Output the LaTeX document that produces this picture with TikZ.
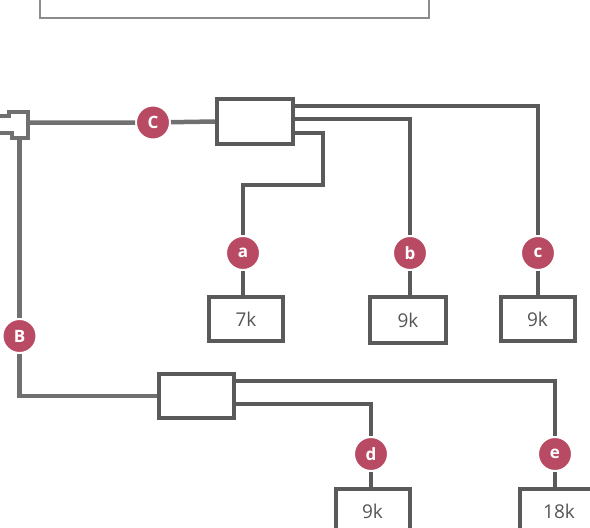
\documentclass[tikz,border=0pt]{standalone}
\usepackage{fontspec}
\setmainfont{Open Sans}
\usetikzlibrary{positioning, calc}
\definecolor{wiregray}{RGB}{90, 90, 90}
\definecolor{feedgray}{RGB}{112, 112, 112}
\definecolor{panelgray}{RGB}{140, 140, 140}
\definecolor{tagred}{RGB}{185, 74, 99}
\definecolor{textgray}{RGB}{85, 85, 85}

\begin{document}
\begin{tikzpicture}[x=1pt, y=-1pt,
    panel/.style={draw=panelgray, line width=1.5pt, minimum width=389pt,
                  minimum height=26pt, inner sep=0pt},
    hub/.style={draw=wiregray, line width=4pt, minimum width=76pt,
                minimum height=45pt, inner sep=0pt},
    load/.style={draw=wiregray, line width=4pt, minimum width=74pt,
                 minimum height=44pt, inner sep=0pt, text=textgray,
                 font=\fontsize{19}{21}\selectfont},
    tag/.style={circle, fill=tagred, draw=white, line width=2pt,
                minimum size=34pt, inner sep=0pt, text=white,
                font=\fontsize{17}{19}\selectfont\bfseries},
    wire/.style={draw=wiregray, line width=4pt},
    feed/.style={draw=feedgray, line width=4.5pt},
]
  \useasboundingbox (0,0) rectangle (590,528);

  \node[panel] (panel) at (234.5,5) {};

  % distribution boxes
  \node[hub] (hubA) at (255,121.5) {};
  \node[hub, minimum width=75pt, minimum height=44pt] (hubB) at (196.5,396) {};

  % loads
  \node[load] (loada) at (246,319) {7k};
  \node[load, minimum width=76pt, minimum height=46pt] (loadb) at (408,320) {9k};
  \node[load] (loadc) at (537.5,319) {9k};
  \node[load] (loadd) at (372.5,511) {9k};
  \node[load, minimum width=78pt] (loade) at (559,511) {18k};

  % markers
  \node[tag] (tagC) at (153,122.5) {C};
  \node[tag] (tagB) at (19.5,336) {B};
  \node[tag] (taga) at (243,253) {a};
  \node[tag] (tagb) at (410,253) {b};
  \node[tag] (tagc) at (538,253) {c};
  \node[tag] (tagd) at (371,454) {d};
  \node[tag] (tage) at (555,454) {e};

  % plug
  \draw[feed, line width=3.5pt] (0,116) -- (9,116) -- (9,112) -- (28,112)
       -- (28,138) -- (12,138) -- (12,133) -- (0,133);
  \coordinate (plug) at (29.5,122.5);
  \coordinate (plugfoot) at (19.5,139.5);

  \draw[feed] (plug) -- (tagC) -- (hubA.west);
  \draw[feed] (plugfoot) -- (tagB) -- (tagB |- hubB.west) -- (hubB.west);

  \draw[wire] ($(hubA.east)+(0,-15.5)$) -| (tagc);
  \draw[wire] ($(hubA.east)+(0,-2.5)$) -| (tagb);
  \draw[wire] ($(hubA.east)+(0,11.5)$) -- ++(28,0) |- ($(taga)+(0,-68)$) -- (taga);
  \draw[wire] ($(hubB.east)+(0,-15)$) -| (tage);
  \draw[wire] ($(hubB.east)+(0,7.5)$) -| (tagd);

  \draw[wire] (taga.south) -- (taga.south |- loada.north);
  \draw[wire] (tagb.south) -- (tagb.south |- loadb.north);
  \draw[wire] (tagc.south) -- (tagc.south |- loadc.north);
  \draw[wire] (tagd.south) -- (tagd.south |- loadd.north);
  \draw[wire] (tage.south) -- (tage.south |- loade.north);
\end{tikzpicture}
\end{document}
